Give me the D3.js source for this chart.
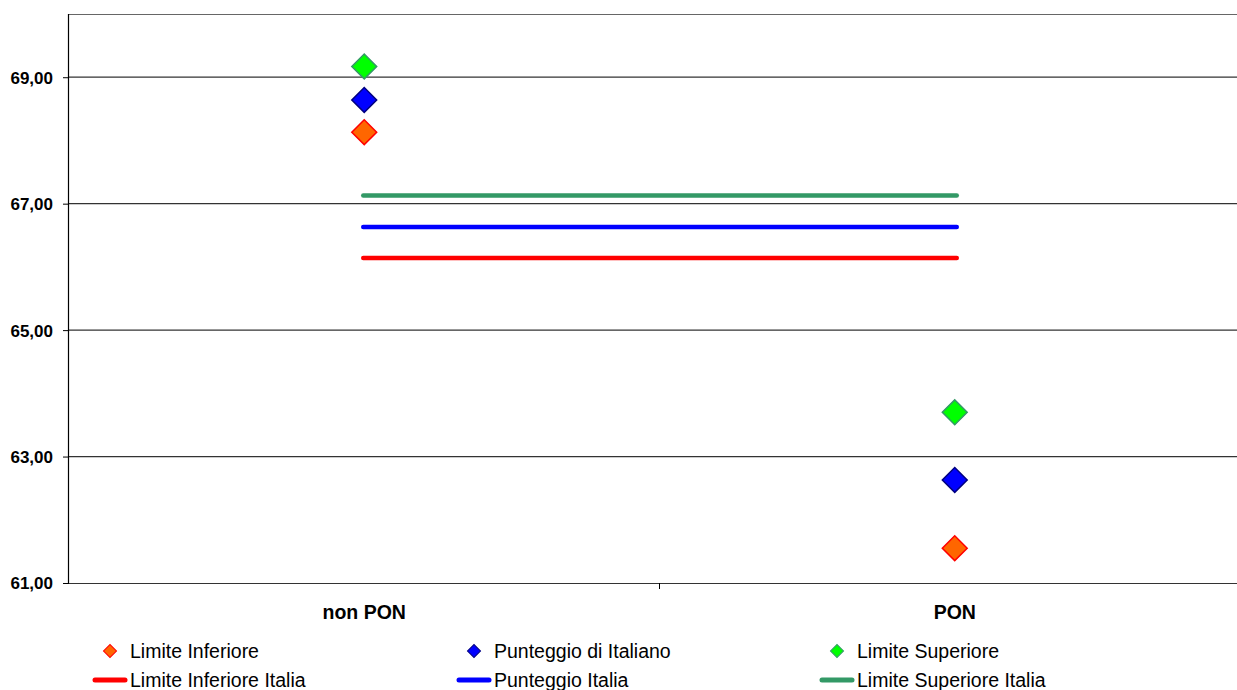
<!DOCTYPE html>
<html><head><meta charset="utf-8">
<script src="https://cdn.jsdelivr.net/npm/d3@7"></script>
<style>body{margin:0;background:#fff;font-family:"Liberation Sans",Arial,sans-serif}</style>
</head><body><svg id="c" width="1237" height="690"></svg>
<script>
const categories = ["non PON", "PON"];
const limiteInferiore = [68.13, 61.55];
const punteggio = [68.64, 62.63];
const limiteSuperiore = [69.17, 63.70];
const limiteInferioreItalia = [66.14, 66.14];
const punteggioItalia = [66.63, 66.63];
const limiteSuperioreItalia = [67.13, 67.13];
const yTicks = [61, 63, 65, 67, 69];

const svg = d3.select("#c");
const L = 69, R = 1250, T = 14, B = 583;
const x = d3.scaleBand().domain(categories).range([L, R]);
const y = d3.scaleLinear().domain([61, 70]).range([B, T]);
const fmt = v => d3.format(".2f")(v).replace(".", ",");
const FF = "Liberation Sans, Arial, sans-serif";

// gridlines
svg.append("g").selectAll("line").data(yTicks.slice(1)).join("line")
  .attr("x1", L).attr("x2", R).attr("y1", d => y(d)).attr("y2", d => y(d))
  .attr("stroke", "#333").attr("stroke-width", 1.2);
svg.append("line").attr("x1", L).attr("x2", R).attr("y1", T + 0.5).attr("y2", T + 0.5)
  .attr("stroke", "#666").attr("stroke-width", 1.2);

// y axis
const ya = svg.append("g").attr("transform", `translate(${L},0)`)
  .call(d3.axisLeft(y).tickValues(yTicks).tickFormat(fmt).tickSize(6).tickPadding(10));
ya.attr("font-size", null).attr("font-family", null);
ya.select(".domain").attr("stroke", "#000").attr("stroke-width", 1.2).attr("d", `M-0.5,${T}V${B}`);
ya.selectAll(".tick line").attr("stroke", "#000");
ya.selectAll("text").style("font-family", FF)
  .style("font-size", "17px").style("font-weight", "bold").attr("fill", "#000").attr("dy", "0.35em");

// x axis
const xa = svg.append("g").attr("transform", `translate(0,${B})`)
  .call(d3.axisBottom(x).tickSize(0).tickPadding(22));
xa.attr("font-size", null).attr("font-family", null);
xa.select(".domain").attr("stroke", "#333").attr("stroke-width", 1.2).attr("d", `M${L},0.5H${R}`);
xa.selectAll("text").style("font-family", FF)
  .style("font-size", "19.5px").style("font-weight", "bold").attr("fill", "#000");
svg.append("line").attr("x1", x("PON")).attr("x2", x("PON"))
  .attr("y1", B).attr("y2", B + 6).attr("stroke", "#000");

// reference lines
const lines = [
  [limiteSuperioreItalia, "#339966"],
  [punteggioItalia, "#0000ff"],
  [limiteInferioreItalia, "#ff0000"]
];
const cx = c => x(c) + x.bandwidth() / 2;
lines.forEach(([vals, col]) => {
  svg.append("path")
    .attr("d", d3.line().x((d, i) => cx(categories[i]) + (i ? 2 : -1)).y(d => y(d))(vals))
    .attr("stroke", col).attr("stroke-width", 4.5).attr("fill", "none")
    .attr("stroke-linecap", "round");
});

// diamonds
const diamond = d3.symbol().type(d3.symbolSquare).size(310);
const series = [
  [limiteInferiore, "#ff6600", "#ff0000"],
  [punteggio, "#0000ff", "#000080"],
  [limiteSuperiore, "#00ff00", "#339966"]
];
series.forEach(([vals, fill, stroke]) => {
  svg.append("g").selectAll("path").data(vals).join("path")
    .attr("d", diamond)
    .attr("transform", (d, i) => `translate(${cx(categories[i])},${y(d)}) rotate(45)`)
    .attr("fill", fill).attr("stroke", stroke).attr("stroke-width", 1.5);
});

// legend
const legendItems = [
  {t: "Limite Inferiore", k: "m", fill: "#ff6600", stroke: "#ff0000", x: 110, y: 651},
  {t: "Punteggio di Italiano", k: "m", fill: "#0000ff", stroke: "#000080", x: 474, y: 651},
  {t: "Limite Superiore", k: "m", fill: "#00ff00", stroke: "#339966", x: 837, y: 651},
  {t: "Limite Inferiore Italia", k: "l", stroke: "#ff0000", x: 110, y: 680},
  {t: "Punteggio Italia", k: "l", stroke: "#0000ff", x: 474, y: 680},
  {t: "Limite Superiore Italia", k: "l", stroke: "#339966", x: 837, y: 680}
];
const small = d3.symbol().type(d3.symbolSquare).size(85);
legendItems.forEach(d => {
  const g = svg.append("g");
  if (d.k === "m") {
    g.append("path").attr("d", small)
      .attr("transform", `translate(${d.x},${d.y}) rotate(45)`)
      .attr("fill", d.fill).attr("stroke", d.stroke).attr("stroke-width", 1);
  } else {
    g.append("line").attr("x1", d.x - 15).attr("x2", d.x + 15)
      .attr("y1", d.y).attr("y2", d.y)
      .attr("stroke", d.stroke).attr("stroke-width", 5).attr("stroke-linecap", "round");
  }
  g.append("text").attr("x", d.x + 20).attr("y", d.y).attr("dy", "0.35em")
    .style("font-family", FF).style("font-size", "19.5px")
    .attr("fill", "#000").text(d.t);
});
</script></body></html>
